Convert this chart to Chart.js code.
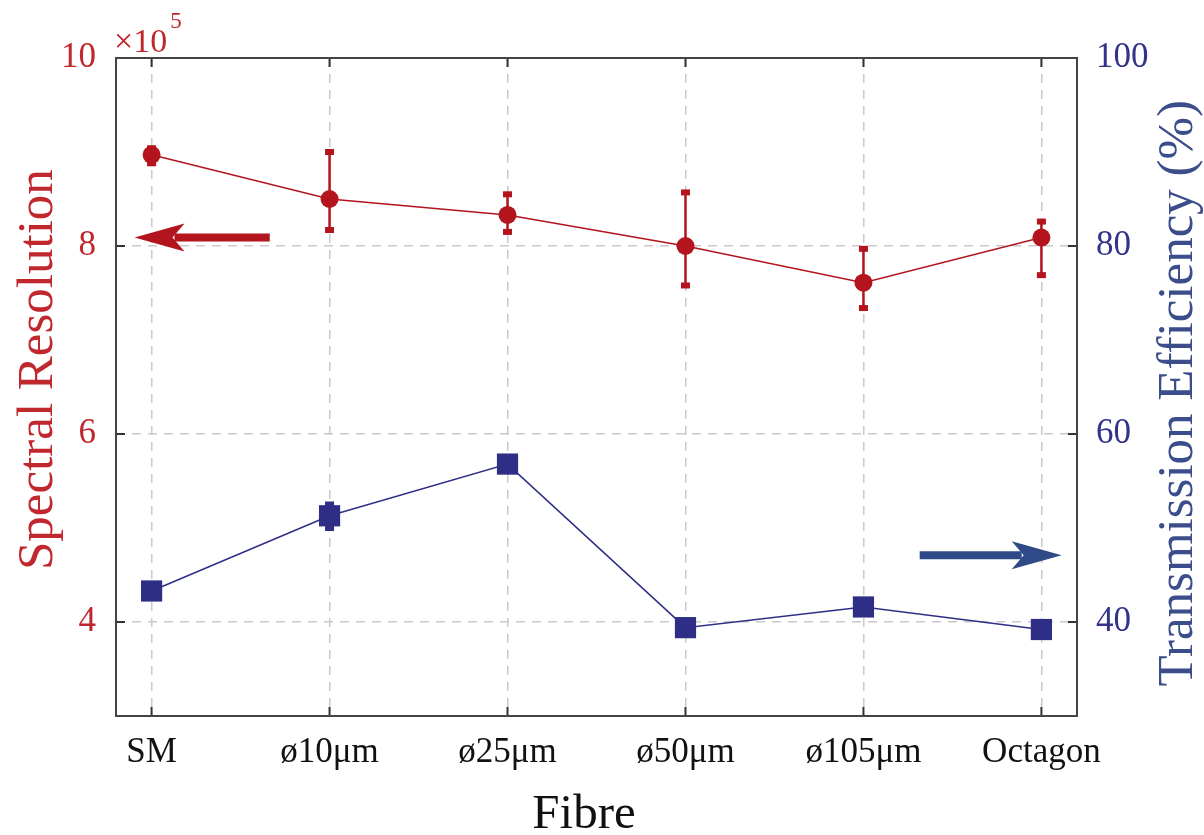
<!DOCTYPE html>
<html>
<head>
<meta charset="utf-8">
<script src="https://cdn.jsdelivr.net/npm/chart.js@4.4.1/dist/chart.umd.min.js"></script>
<style>
  html, body { margin: 0; padding: 0; background: #fff; }
  #wrap { width: 1204px; height: 835px; }
</style>
</head>
<body>
<div id="wrap"><canvas id="fibreChart" width="1204" height="835"></canvas></div>
<script>
// values (resolution in units of 1e5, efficiency in %)
const fibres = ['SM', 'ø10μm', 'ø25μm', 'ø50μm', 'ø105μm', 'Octagon'];
const resolution = [8.97, 8.50, 8.33, 8.00, 7.61, 8.09];
const resLow     = [8.88, 8.17, 8.15, 7.58, 7.34, 7.69];
const resHigh    = [9.04, 9.00, 8.55, 8.57, 7.97, 8.26];
const efficiency = [43.3, 51.3, 56.8, 39.4, 41.6, 39.2];
const effLow     = [43.3, 50.0, 56.8, 39.4, 41.6, 39.2];
const effHigh    = [43.3, 52.5, 56.8, 39.4, 41.6, 39.2];
const resTicks = [4, 6, 8, 10];
const effTicks = [40, 60, 80, 100];

const RED = '#b3141d';
const BLUE = '#2f2e86';
const FONT = "'Liberation Serif', 'DejaVu Serif', serif";

function pts(arr) {
    return arr.map(function (v, i) { return { x: i, y: v }; });
}

// error bars, frame, inner ticks, arrows and axis texts
const extras = {
    id: 'extras',
    beforeDatasetsDraw(chart) {
        const ctx = chart.ctx;
        const xs = chart.scales.x;
        const sets = [
            { scale: chart.scales.y, lo: resLow, hi: resHigh, color: RED },
            { scale: chart.scales.y1, lo: effLow, hi: effHigh, color: BLUE }
        ];
        ctx.save();
        sets.forEach(function (s) {
            ctx.strokeStyle = s.color;
            ctx.fillStyle = s.color;
            ctx.lineWidth = 2.5;
            for (let i = 0; i < s.lo.length; i++) {
                if (s.lo[i] == s.hi[i]) continue;
                const px = xs.getPixelForValue(i);
                const y0 = s.scale.getPixelForValue(s.lo[i]);
                const y1 = s.scale.getPixelForValue(s.hi[i]);
                ctx.beginPath();
                ctx.moveTo(px, y0);
                ctx.lineTo(px, y1);
                ctx.stroke();
                ctx.fillRect(px - 4.5, y0 - 3, 9, 6);
                ctx.fillRect(px - 4.5, y1 - 3, 9, 6);
            }
        });
        ctx.restore();
    },
    afterDraw(chart) {
        const ctx = chart.ctx;
        const a = chart.chartArea;
        const xs = chart.scales.x;
        const ys = chart.scales.y;
        const ys1 = chart.scales.y1;
        ctx.save();

        // inner tick marks
        ctx.strokeStyle = '#333';
        ctx.lineWidth = 2;
        ctx.beginPath();
        xs.ticks.forEach(function (t) {
            const px = xs.getPixelForValue(t.value);
            ctx.moveTo(px, a.bottom); ctx.lineTo(px, a.bottom - 9);
            ctx.moveTo(px, a.top); ctx.lineTo(px, a.top + 9);
        });
        ys.ticks.forEach(function (t) {
            const py = ys.getPixelForValue(t.value);
            ctx.moveTo(a.left, py); ctx.lineTo(a.left + 9, py);
        });
        ys1.ticks.forEach(function (t) {
            const py = ys1.getPixelForValue(t.value);
            ctx.moveTo(a.right, py); ctx.lineTo(a.right - 9, py);
        });
        ctx.stroke();

        // frame
        ctx.strokeStyle = '#444';
        ctx.lineWidth = 2;
        ctx.strokeRect(a.left, a.top, a.right - a.left, a.bottom - a.top);

        // arrows pointing to the matching axis
        function arrow(x0, x1, py, color) {
            const dir = Math.sign(x1 - x0);
            ctx.fillStyle = color;
            ctx.strokeStyle = color;
            ctx.lineWidth = 8;
            ctx.beginPath();
            ctx.moveTo(x0, py);
            ctx.lineTo(x1 - dir * 40, py);
            ctx.stroke();
            ctx.beginPath();
            ctx.moveTo(x1, py);
            ctx.lineTo(x1 - dir * 50, py - 14);
            ctx.lineTo(x1 - dir * 38, py);
            ctx.lineTo(x1 - dir * 50, py + 14);
            ctx.closePath();
            ctx.fill();
        }
        arrow(xs.getPixelForValue(0.664), xs.getPixelForValue(-0.096), ys.getPixelForValue(8.09), RED);
        arrow(xs.getPixelForValue(4.316), xs.getPixelForValue(5.114), ys1.getPixelForValue(47.1), '#2f4a86');

        // x10^5 multiplier
        ctx.fillStyle = '#c0272d';
        ctx.textBaseline = 'alphabetic';
        ctx.textAlign = 'left';
        ctx.font = '34px ' + FONT;
        ctx.fillText('×10', a.left - 2, a.top - 6);
        const w = ctx.measureText('×10').width;
        ctx.font = '23px ' + FONT;
        ctx.fillText('5', a.left + w + 1, a.top - 30);

        // axis titles
        ctx.font = '51px ' + FONT;
        ctx.fillStyle = '#c0282e';
        ctx.save();
        ctx.translate(52, 570);
        ctx.rotate(-Math.PI / 2);
        ctx.textAlign = 'left';
        ctx.fillText('Spectral Resolution', 0, 0);
        ctx.restore();

        ctx.fillStyle = '#3b4d8a';
        ctx.save();
        ctx.translate(1192, 100);
        ctx.rotate(-Math.PI / 2);
        ctx.textAlign = 'right';
        ctx.fillText('Transmission Efficiency (%)', 0, 0);
        ctx.restore();

        ctx.fillStyle = '#111';
        ctx.font = '49px ' + FONT;
        ctx.textAlign = 'center';
        ctx.fillText('Fibre', 584, 828);

        ctx.restore();
    }
};

const config = {
    type: 'line',
    data: {
        datasets: [
            {
                label: 'Spectral Resolution',
                data: pts(resolution),
                yAxisID: 'y',
                borderColor: RED,
                backgroundColor: RED,
                borderWidth: 1.5,
                pointStyle: 'circle',
                pointRadius: 9,
                pointBorderWidth: 0,
                tension: 0
            },
            {
                label: 'Transmission Efficiency',
                data: pts(efficiency),
                yAxisID: 'y1',
                borderColor: BLUE,
                backgroundColor: BLUE,
                borderWidth: 1.5,
                pointStyle: 'rect',
                pointRadius: 15,
                pointBorderWidth: 0,
                tension: 0
            }
        ]
    },
    options: {
        responsive: false,
        animation: false,
        layout: { padding: { top: 58, left: 0, right: 0, bottom: 0 } },
        plugins: {
            legend: { display: false },
            tooltip: { enabled: false }
        },
        scales: {
            x: {
                type: 'linear',
                min: -0.2,
                max: 5.2,
                afterBuildTicks: function (scale) {
                    scale.ticks = fibres.map(function (f, i) { return { value: i }; });
                },
                afterFit: function (scale) { scale.height = 119; },
                grid: { color: '#c9c9c9', lineWidth: 1.5, drawTicks: false },
                border: { display: false, dash: [9, 7] },
                ticks: {
                    autoSkip: false,
                    maxRotation: 0,
                    padding: 16,
                    color: '#111',
                    font: { family: FONT, size: 35 },
                    callback: function (v) { return fibres[v]; }
                }
            },
            y: {
                position: 'left',
                min: 3,
                max: 10,
                afterBuildTicks: function (scale) {
                    scale.ticks = resTicks.map(function (v) { return { value: v }; });
                },
                afterFit: function (scale) { scale.width = 116; },
                grid: { color: '#c9c9c9', lineWidth: 1.5, drawTicks: false },
                border: { display: false, dash: [9, 7] },
                ticks: {
                    padding: 20,
                    color: '#c0272d',
                    font: { family: FONT, size: 35 }
                }
            },
            y1: {
                position: 'right',
                min: 30,
                max: 100,
                afterBuildTicks: function (scale) {
                    scale.ticks = effTicks.map(function (v) { return { value: v }; });
                },
                afterFit: function (scale) { scale.width = 127; },
                grid: { display: false, drawTicks: false },
                border: { display: false },
                ticks: {
                    padding: 19,
                    color: '#33338a',
                    font: { family: FONT, size: 35 }
                }
            }
        }
    },
    plugins: [extras]
};

new Chart(document.getElementById('fibreChart'), config);
</script>
</body>
</html>
